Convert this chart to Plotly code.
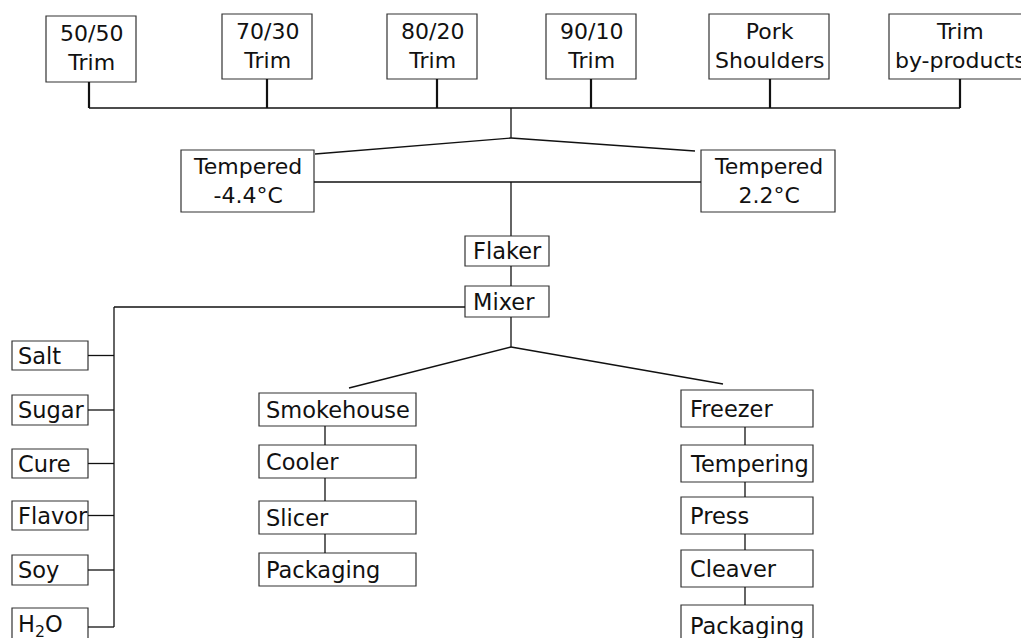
import plotly.graph_objects as go

# ---- content (node labels) ----
source_labels = ["50/50<br>Trim", "70/30<br>Trim", "80/20<br>Trim", "90/10<br>Trim",
                 "Pork<br>Shoulders", "Trim<br>by-products"]
temper_labels = ["Tempered<br>-4.4°C", "Tempered<br>2.2°C"]
process_labels = ["Flaker", "Mixer"]
ingredient_labels = ["Salt", "Sugar", "Cure", "Flavor", "Soy", "H<sub>2</sub>O"]
cooked_labels = ["Smokehouse", "Cooler", "Slicer", "Packaging"]
frozen_labels = ["Freezer", "Tempering", "Press", "Cleaver", "Packaging"]

# ---- layout geometry (pixel space of the canvas) ----
W, H = 1021, 638
FONT = dict(family="DejaVu Sans", size=22.5, color="#111")
FONT2 = dict(family="DejaVu Sans", size=22, color="#111")
BOX_LINE = dict(color="#333", width=1.2)
CONN = dict(color="#111", width=1.3)
STEM = dict(color="#111", width=2.2)

src_boxes = [(46, 136, 16, 82), (222, 312, 14, 79), (387, 477, 14, 79),
             (546, 636, 14, 79), (709, 829, 14, 79), (889, 1031, 14, 79)]
src_stems = [89, 267, 437, 591, 770, 960]
bus_y = 108
temper_boxes = [(181, 314, 150, 212), (701, 835, 150, 212)]
proc_boxes = [(465, 549, 236, 266), (465, 549, 286, 317)]
ingr_x = (12, 88)
ingr_y = [(341, 370), (395, 425), (449, 478), (501, 530), (555, 585), (608, 646)]
ingr_bus_x = 114
cook_x = (259, 416)
cook_y = [(393, 426), (445, 478), (501, 534), (553, 586)]
froz_x = (681, 813)
froz_y = [(390, 427), (445, 482), (497, 534), (550, 587), (605, 646)]

shapes = []
annotations = []


def box(x0, x1, y0, y1, text, align="center", pad=6, font=FONT, dy=0):
    shapes.append(dict(type="rect", xref="x", yref="y", x0=x0, x1=x1, y0=y0, y1=y1,
                       line=BOX_LINE, fillcolor="rgba(0,0,0,0)"))
    if align == "center":
        annotations.append(dict(x=(x0 + x1) / 2, y=(y0 + y1) / 2 + dy, xref="x", yref="y",
                                text=text, showarrow=False, font=font,
                                xanchor="center", yanchor="middle", align="center"))
    else:
        annotations.append(dict(x=x0 + pad, y=(y0 + y1) / 2 + dy, xref="x", yref="y",
                                text=text, showarrow=False, font=font,
                                xanchor="left", yanchor="middle", align="left"))


def line(x0, y0, x1, y1, style=CONN):
    shapes.append(dict(type="line", xref="x", yref="y", x0=x0, y0=y0, x1=x1, y1=y1,
                       line=style))


# sources
for (x0, x1, y0, y1), lab, sx in zip(src_boxes, source_labels, src_stems):
    box(x0, x1, y0, y1, lab, font=FONT2, dy=-1)
    line(sx, y1, sx, bus_y, STEM)
line(src_stems[0], bus_y, src_stems[-1], bus_y, dict(color="#111", width=1.6))
cx = 511
line(cx, bus_y, cx, 138)
line(cx, 138, 315, 154)
line(cx, 138, 695, 151)

# tempered
for (x0, x1, y0, y1), lab in zip(temper_boxes, temper_labels):
    box(x0, x1, y0, y1, lab, font=FONT2)
line(314, 182, 701, 182)
line(cx, 182, cx, 236)

# flaker / mixer
for (x0, x1, y0, y1), lab in zip(proc_boxes, process_labels):
    box(x0, x1, y0, y1, lab, align="left", pad=6)
line(cx, 266, cx, 286)

# ingredients
line(465, 307, ingr_bus_x, 307)
for (y0, y1), lab in zip(ingr_y, ingredient_labels):
    ym = (y0 + y1) / 2 if y1 < 640 else 627
    box(ingr_x[0], ingr_x[1], y0, y1, lab, align="left", pad=4,
        dy=0 if y1 < 640 else -1)
    line(ingr_x[1], ym, ingr_bus_x, ym)
line(ingr_bus_x, 307, ingr_bus_x, 627)

# split after mixer
line(cx, 317, cx, 347)
line(cx, 347, 349, 388)
line(cx, 347, 723, 384)

# cooked branch
for (y0, y1), lab in zip(cook_y, cooked_labels):
    box(cook_x[0], cook_x[1], y0, y1, lab, align="left", pad=5)
for (a, b) in zip(cook_y[:-1], cook_y[1:]):
    line(325, a[1], 325, b[0])

# frozen branch
for (y0, y1), lab in zip(froz_y, frozen_labels):
    box(froz_x[0], froz_x[1], y0, y1, lab, align="left", pad=7)
for (a, b) in zip(froz_y[:-1], froz_y[1:]):
    line(745, a[1], 745, b[0])

fig = go.Figure()
fig.update_layout(
    width=W, height=H,
    margin=dict(l=0, r=0, t=0, b=0),
    paper_bgcolor="white", plot_bgcolor="white",
    xaxis=dict(range=[0, W], visible=False, fixedrange=True),
    yaxis=dict(range=[H, 0], visible=False, fixedrange=True),
    shapes=shapes, annotations=annotations, showlegend=False,
)
fig.write_html("out.html", config={"displayModeBar": False},
               post_script="document.body.style.margin='0';document.body.style.overflow='hidden';")
